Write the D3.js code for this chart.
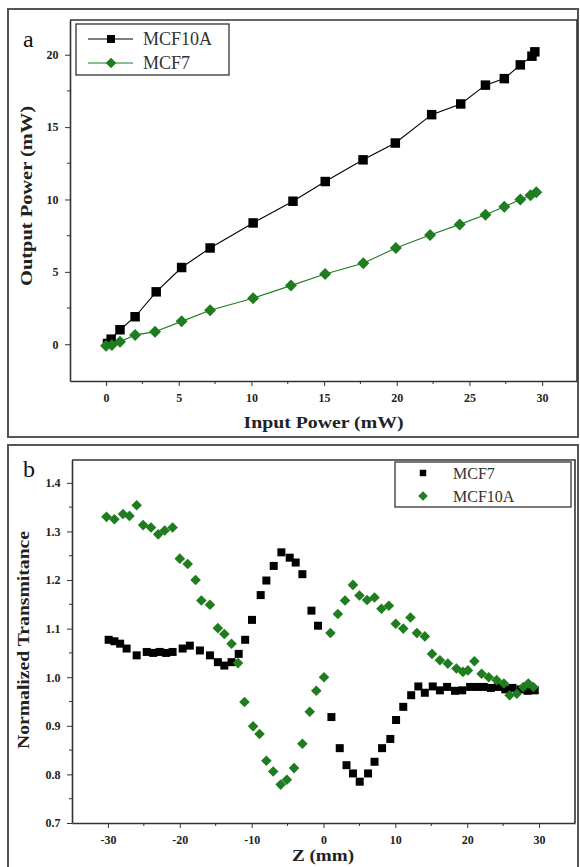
<!DOCTYPE html>
<html>
<head>
<meta charset="utf-8">
<script src="https://cdn.jsdelivr.net/npm/d3@7"></script>
<style>
  body { margin: 0; background: #fff; }
  svg text { font-family: "Liberation Serif", "Times New Roman", "DejaVu Serif", serif; }
</style>
</head>
<body>
<div id="chart"></div>
<script>
// panel a: output vs input power
const inputMCF10A = [0.1, 0.35, 0.96, 2.0, 3.45, 5.2, 7.16, 10.12, 12.86, 15.08, 17.68, 19.9, 22.4, 24.4, 26.1, 27.4, 28.5, 29.3, 29.5];
const outputMCF10A = [0.05, 0.35, 1.0, 1.9, 3.62, 5.3, 6.65, 8.38, 9.88, 11.24, 12.74, 13.9, 15.86, 16.6, 17.9, 18.35, 19.3, 19.9, 20.2];
const inputMCF7 = [0, 0.4, 0.96, 2.0, 3.37, 5.2, 7.16, 10.12, 12.72, 15.07, 17.7, 19.94, 22.29, 24.33, 26.1, 27.4, 28.5, 29.2, 29.6];
const outputMCF7 = [-0.1, -0.05, 0.18, 0.63, 0.87, 1.58, 2.35, 3.18, 4.05, 4.85, 5.6, 6.65, 7.55, 8.28, 8.95, 9.5, 10.0, 10.3, 10.5];
const xTicksA = [0, 5, 10, 15, 20, 25, 30];
const yTicksA = [0, 5, 10, 15, 20];

// panel b: z-scan
const zMCF7 = [-29.9, -29.1, -28.3, -27.4, -26.0, -24.6, -23.7, -22.8, -21.9, -21.0, -19.6, -18.6, -17.2, -15.8, -14.7, -13.8, -12.8, -11.8, -10.9, -9.95, -8.74, -7.95, -6.93, -5.86, -4.7, -3.87, -2.94, -1.68, -0.76, 1.1, 2.26, 3.2, 4.1, 5.04, 6.2, 7.1, 8.15, 9.3, 10.1, 11.1, 12.2, 13.2, 14.1, 15.2, 16.2, 17.2, 18.3, 19.3, 20.4, 21.3, 22.3, 23.3, 24.3, 25.3, 26.3, 27.4, 28.4, 29.4];
const tMCF7 = [1.077, 1.074, 1.069, 1.059, 1.045, 1.052, 1.050, 1.052, 1.050, 1.052, 1.059, 1.065, 1.055, 1.045, 1.031, 1.024, 1.031, 1.048, 1.077, 1.118, 1.169, 1.199, 1.229, 1.257, 1.246, 1.236, 1.212, 1.137, 1.106, 0.918, 0.854, 0.819, 0.802, 0.785, 0.802, 0.826, 0.854, 0.873, 0.912, 0.939, 0.963, 0.981, 0.968, 0.981, 0.973, 0.98, 0.972, 0.973, 0.98, 0.98, 0.98, 0.978, 0.98, 0.975, 0.978, 0.975, 0.972, 0.973];
const zMCF10A = [-30.2, -29.1, -27.9, -27.0, -26.0, -25.1, -24.0, -23.0, -22.1, -21.0, -20.0, -18.9, -17.8, -17.0, -15.8, -14.7, -13.8, -12.8, -11.9, -11.0, -9.8, -8.9, -7.95, -7.0, -5.96, -5.1, -4.1, -2.94, -1.92, -1.0, 0.07, 0.96, 2.0, 3.0, 4.1, 5.0, 6.06, 7.1, 8.06, 9.1, 10.05, 11.1, 12.1, 13.0, 14.1, 15.1, 16.2, 17.3, 18.5, 19.4, 20.1, 21.0, 22.0, 23.0, 24.1, 25.1, 25.9, 26.9, 27.8, 28.5, 29.2];
const tMCF10A = [1.33, 1.325, 1.336, 1.332, 1.354, 1.313, 1.308, 1.294, 1.302, 1.308, 1.244, 1.233, 1.2, 1.158, 1.149, 1.101, 1.089, 1.069, 1.029, 0.949, 0.899, 0.883, 0.828, 0.806, 0.779, 0.789, 0.813, 0.863, 0.929, 0.972, 1.0, 1.091, 1.13, 1.158, 1.19, 1.168, 1.159, 1.164, 1.141, 1.147, 1.11, 1.1, 1.123, 1.091, 1.084, 1.048, 1.035, 1.028, 1.018, 1.011, 1.014, 1.033, 1.007, 1.0, 0.994, 0.987, 0.963, 0.966, 0.98, 0.987, 0.98];
const xTicksB = [-30, -20, -10, 0, 10, 20, 30];
const yTicksB = [0.7, 0.8, 0.9, 1.0, 1.1, 1.2, 1.3, 1.4];

const green = "#1f7d1f";
const serif = "Liberation Serif, Times New Roman, serif";
const W = 580, H = 867;

const svg = d3.select("#chart").append("svg")
  .attr("width", W)
  .attr("height", H)
  .attr("font-family", serif);

const square = (s) => d3.symbol().type(d3.symbolSquare).size(s)();

// draws axes + frame for one panel, returns the plot group
function panel(opts) {
  const g = svg.append("g");
  // outer box
  g.append("rect")
    .attr("x", opts.box[0]).attr("y", opts.box[1])
    .attr("width", opts.box[2]).attr("height", opts.box[3])
    .attr("fill", "none").attr("stroke", "#555").attr("stroke-width", 2);

  const x = opts.x, y = opts.y;
  const [x0, x1] = x.range(), [y1, y0] = y.range();

  const xAxis = d3.axisBottom(x).tickValues(opts.xTicks).tickSize(5).tickSizeOuter(0).tickFormat(opts.xFmt);
  const yAxis = d3.axisLeft(y).tickValues(opts.yTicks).tickSize(5).tickSizeOuter(0).tickFormat(opts.yFmt);

  const gx = g.append("g").attr("transform", `translate(0,${y1})`).call(xAxis);
  const gy = g.append("g").attr("transform", `translate(${x0},0)`).call(yAxis);

  // minor ticks
  gx.selectAll(".minor").data(opts.xMinor).enter().append("line")
    .attr("x1", d => x(d)).attr("x2", d => x(d)).attr("y1", 0).attr("y2", 3)
    .attr("stroke", "#333");
  gy.selectAll(".minor").data(opts.yMinor).enter().append("line")
    .attr("y1", d => y(d)).attr("y2", d => y(d)).attr("x1", 0).attr("x2", -3)
    .attr("stroke", "#333");

  [gx, gy].forEach(a => {
    a.attr("font-family", serif);
    a.select(".domain").attr("stroke", "#333").attr("stroke-width", 1.6);
    a.selectAll(".tick line").attr("stroke", "#333");
    a.selectAll(".tick text")
      .attr("font-weight", "bold")
      .attr("font-size", 12)
      .attr("fill", "#222");
  });
  gx.selectAll(".tick text").attr("dy", "1.05em");
  gy.selectAll(".tick text").attr("dx", "-0.3em");

  // top and right frame
  g.append("path")
    .attr("d", `M${x0},${y0}H${x1}V${y1}`)
    .attr("fill", "none").attr("stroke", "#333").attr("stroke-width", 1.6);

  // titles
  g.append("text")
    .attr("x", (x0 + x1) / 2 + opts.xTitleShift).attr("y", opts.xTitleY)
    .attr("text-anchor", "middle")
    .attr("font-weight", "bold").attr("font-size", opts.titleSize)
    .attr("textLength", opts.xTitleLen).attr("lengthAdjust", "spacingAndGlyphs")
    .attr("fill", "#222")
    .text(opts.xTitle);
  g.append("text")
    .attr("transform", `translate(${opts.yTitleX},${opts.yTitleMid}) rotate(-90)`)
    .attr("text-anchor", "middle")
    .attr("font-weight", "bold").attr("font-size", opts.titleSize)
    .attr("textLength", opts.yTitleLen).attr("lengthAdjust", "spacingAndGlyphs")
    .attr("fill", "#222")
    .text(opts.yTitle);
  g.append("text")
    .attr("x", opts.letter[1]).attr("y", opts.letter[2])
    .attr("font-size", 24).attr("fill", "#111")
    .text(opts.letter[0]);
  return g;
}

// ---------- panel a ----------
const xa = d3.scaleLinear().domain([-2.48, 32.4]).range([70, 577]);
const ya = d3.scaleLinear().domain([-2.54, 22.4]).range([381, 20]);

const ga = panel({
  box: [8, 9, 570, 428],
  x: xa, y: ya,
  xTicks: xTicksA, yTicks: yTicksA,
  xMinor: [2.5, 7.5, 12.5, 17.5, 22.5, 27.5],
  yMinor: [2.5, 7.5, 12.5, 17.5],
  xFmt: d3.format("d"), yFmt: d3.format("d"),
  xTitle: "Input Power (mW)", xTitleY: 428, xTitleShift: 0, xTitleLen: 160,
  yTitle: "Output Power (mW)", yTitleX: 32, yTitleMid: 196, yTitleLen: 180,
  titleSize: 17,
  letter: ["a", 23, 47]
});

const seriesA = [
  { xs: inputMCF10A, ys: outputMCF10A, color: "#000", sym: "square" },
  { xs: inputMCF7, ys: outputMCF7, color: green, sym: "diamond" }
];
seriesA.forEach(s => {
  const pts = s.xs.map((v, i) => [v, s.ys[i]]);
  ga.append("path")
    .attr("d", d3.line().x(d => xa(d[0])).y(d => ya(d[1]))(pts))
    .attr("fill", "none").attr("stroke", s.color).attr("stroke-width", 1.1);
  ga.selectAll(null).data(pts).enter().append("path")
    .attr("d", s.sym === "square" ? square(90) : square(72))
    .attr("transform", d => `translate(${xa(d[0])},${ya(d[1])})` + (s.sym === "diamond" ? " rotate(45)" : ""))
    .attr("fill", s.color);
});

// legend a
const la = ga.append("g");
la.append("rect").attr("x", 76).attr("y", 24).attr("width", 153).attr("height", 51)
  .attr("fill", "#fff").attr("stroke", "#333").attr("stroke-width", 1.3);
[["MCF10A", "#000", "square", 39], ["MCF7", green, "diamond", 63]].forEach(([name, c, sym, yy]) => {
  la.append("line").attr("x1", 88).attr("x2", 133).attr("y1", yy).attr("y2", yy)
    .attr("stroke", c).attr("stroke-width", 1.2);
  la.append("path").attr("d", sym === "square" ? square(64) : square(56))
    .attr("transform", `translate(111,${yy})` + (sym === "diamond" ? " rotate(45)" : ""))
    .attr("fill", c);
  la.append("text").attr("x", 143).attr("y", yy + 6).attr("font-size", 18)
    .attr("fill", "#333").text(name);
});

// ---------- panel b ----------
const xb = d3.scaleLinear().domain([-35, 35]).range([72, 575]);
const yb = d3.scaleLinear().domain([0.7, 1.447]).range([823, 460]);

const gb = panel({
  box: [8, 445, 570, 430],
  x: xb, y: yb,
  xTicks: xTicksB, yTicks: yTicksB,
  xMinor: [-25, -15, -5, 5, 15, 25],
  yMinor: [0.75, 0.85, 0.95, 1.05, 1.15, 1.25, 1.35],
  xFmt: d3.format("d"), yFmt: d3.format(".1f"),
  xTitle: "Z (mm)", xTitleY: 861, xTitleShift: -0.5, xTitleLen: 62,
  yTitle: "Normalized Transmitance", yTitleX: 29, yTitleMid: 640, yTitleLen: 218,
  titleSize: 16,
  letter: ["b", 23, 477]
});
gb.selectAll(".tick text").filter(function() { return this.textContent.startsWith("−"); })
  .text(function() { return this.textContent.replace("−", "-"); });

const ptsB7 = zMCF7.map((z, i) => [z, tMCF7[i]]);
const ptsB10 = zMCF10A.map((z, i) => [z, tMCF10A[i]]);
gb.selectAll(null).data(ptsB7).enter().append("path")
  .attr("d", square(64))
  .attr("transform", d => `translate(${xb(d[0])},${yb(d[1])})`)
  .attr("fill", "#000");
gb.selectAll(null).data(ptsB10).enter().append("path")
  .attr("d", square(56))
  .attr("transform", d => `translate(${xb(d[0])},${yb(d[1])}) rotate(45)`)
  .attr("fill", green);

// legend b
const lb = gb.append("g");
lb.append("rect").attr("x", 395).attr("y", 462).attr("width", 176).attr("height", 45)
  .attr("fill", "#fff").attr("stroke", "#333").attr("stroke-width", 1.3);
lb.append("path").attr("d", square(42)).attr("transform", "translate(423,473)").attr("fill", "#000");
lb.append("path").attr("d", square(46)).attr("transform", "translate(423,496) rotate(45)").attr("fill", green);
lb.append("text").attr("x", 453).attr("y", 479).attr("font-size", 16).attr("fill", "#333").text("MCF7");
lb.append("text").attr("x", 453).attr("y", 502).attr("font-size", 16).attr("fill", "#333").text("MCF10A");
</script>
</body>
</html>
